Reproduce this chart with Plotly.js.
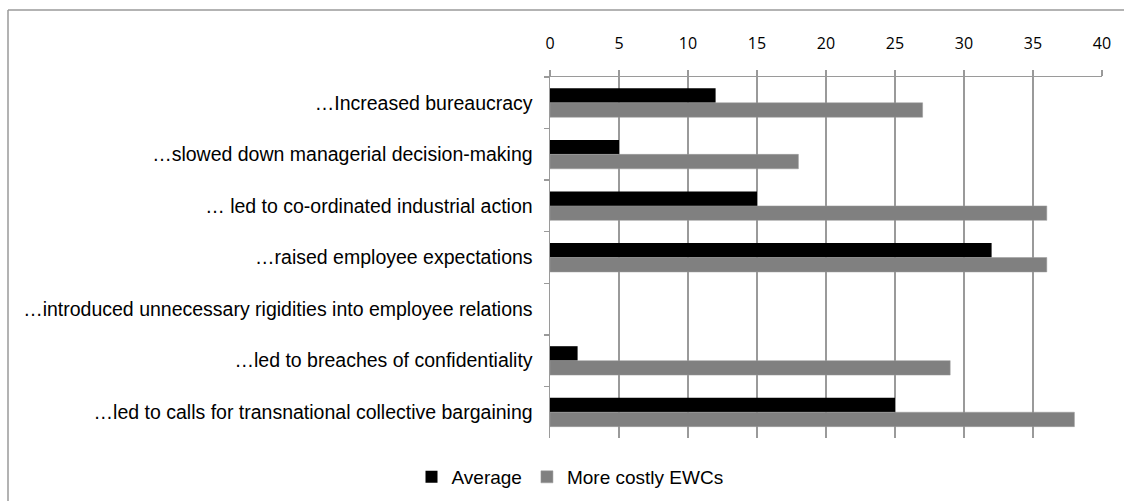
<!DOCTYPE html>
<html>
<head>
<meta charset="utf-8">
<script src="https://cdn.plot.ly/plotly-3.0.1.min.js"></script>
<style>html,body{margin:0;padding:0;background:#fff;}#chart{width:1124px;height:501px;}</style>
</head>
<body>
<div id="chart"></div>
<script>
const categories = [
  "…Increased bureaucracy",
  "…slowed down managerial decision-making",
  "… led to co-ordinated industrial action",
  "…raised employee expectations",
  "…introduced unnecessary rigidities into employee relations",
  "…led to breaches of confidentiality",
  "…led to calls for transnational collective bargaining"
];
const averageValues = [12, 5, 15, 32, null, 2, 25];
const costlyValues = [27, 18, 36, 36, null, 29, 38];
const xTicks = [0, 5, 10, 15, 20, 25, 30, 35, 40];

const W = 1124, H = 501;
const L = 550, R = 22, T = 77, B = 63;
const pw = W - L - R, ph = H - T - B;
const px = v => (v - L) / pw;
const py = v => (T + ph - v) / ph;

const traces = [
  {type: 'bar', orientation: 'h', name: 'Average', y: categories, x: averageValues,
   marker: {color: '#000000'}},
  {type: 'bar', orientation: 'h', name: 'More costly EWCs', y: categories, x: costlyValues,
   marker: {color: '#808080', line: {color: '#9a9a9a', width: 0.5}}}
];

const layout = {
  width: W, height: H,
  margin: {l: L, r: R, t: T, b: B, pad: 0, autoexpand: false},
  paper_bgcolor: '#ffffff', plot_bgcolor: '#ffffff',
  barmode: 'group', bargap: 0.44, bargroupgap: 0,
  font: {family: 'Liberation Sans, Arial, sans-serif', size: 19, color: '#000'},
  xaxis: {
    side: 'top', range: [0, 40], tickvals: xTicks, ticktext: xTicks.map(String),
    showgrid: true, gridcolor: '#9a9a9a', gridwidth: 1.5,
    showline: true, linecolor: '#9a9a9a', linewidth: 1.5,
    ticks: 'outside', ticklen: 6, tickcolor: '#9a9a9a', tickwidth: 1.5,
    tickfont: {family: 'Open Sans, sans-serif', size: 16, color: '#000'},
    ticklabelstandoff: 14,
    zeroline: false, fixedrange: true
  },
  yaxis: {
    type: 'category', autorange: 'reversed',
    showline: true, linecolor: '#9a9a9a', linewidth: 1.5,
    ticks: 'outside', tickson: 'boundaries', ticklen: 5, tickcolor: '#9a9a9a', tickwidth: 1.5,
    tickfont: {family: 'Liberation Sans, Arial, sans-serif', size: 19.5, color: '#000'},
    ticklabelstandoff: 12,
    showgrid: false, fixedrange: true
  },
  showlegend: true,
  legend: {orientation: 'h', xref: 'container', yref: 'container', xanchor: 'center',
    x: 570 / W,
    y: (H - 477) / H, yanchor: 'middle', font: {size: 19},
    itemwidth: 30, traceorder: 'normal', bgcolor: 'rgba(0,0,0,0)'},
  shapes: [
    {type: 'line', xref: 'paper', yref: 'paper',
     x0: px(8), x1: px(1130), y0: py(10), y1: py(10),
     line: {color: '#9a9a9a', width: 1.5}, layer: 'below'},
    {type: 'line', xref: 'paper', yref: 'paper',
     x0: px(8), x1: px(8), y0: py(10), y1: py(510),
     line: {color: '#9a9a9a', width: 1.5}, layer: 'below'}
  ]
};

Plotly.newPlot('chart', traces, layout, {displayModeBar: false, staticPlot: true});
</script>
</body>
</html>
